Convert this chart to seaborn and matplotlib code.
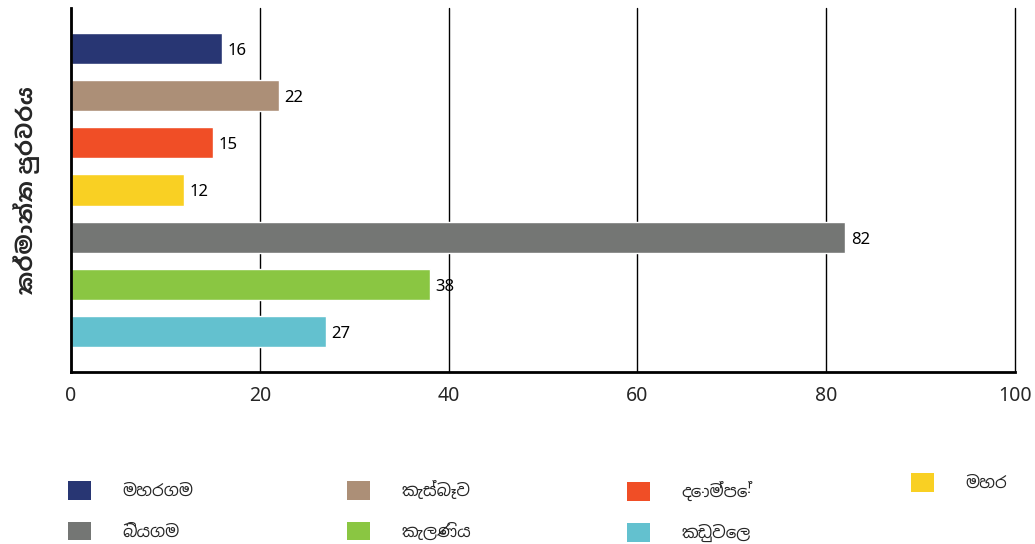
import matplotlib
matplotlib.use("Agg")
import os
import matplotlib.pyplot as plt
from matplotlib import font_manager
import seaborn as sns
import pandas as pd
from matplotlib.patches import Patch

categories = ["මහරගම", "කැස්බෑව", "දොම්පේ", "මහර", "බියගම", "කැලණිය", "කඩුවෙල"]
values = [16, 22, 15, 12, 82, 38, 27]
colors = ["#283673", "#AC8F77", "#F04E26", "#F9D023", "#747674", "#8AC642", "#63C1CF"]
x_ticks = [0, 20, 40, 60, 80, 100]
y_label = "කර්මාන්ත පුරවරය"

for p in ["/usr/share/fonts/truetype/google-fonts/NotoSansSinhala[wdth,wght].ttf",
          "/usr/share/fonts/truetype/google-fonts/HindColombo-Regular.ttf",
          "/usr/share/fonts/truetype/google-fonts/HindColombo-Bold.ttf"]:
    if os.path.exists(p):
        try:
            font_manager.fontManager.addfont(p)
        except Exception:
            pass

sns.set_theme(style="white")
plt.rcParams["font.family"] = ["Noto Sans", "Noto Sans Sinhala", "Hind Colombo", "DejaVu Sans"]

df = pd.DataFrame({"cat": categories, "val": values})

fig = plt.figure(figsize=(10.35, 5.44), dpi=100)
W, H = 1035, 544
ax = fig.add_axes([71 / W, 1 - 372 / H, (1015 - 71) / W, (372 - 8) / H])

sns.barplot(data=df, y="cat", x="val", hue="cat", palette=colors, order=categories,
            hue_order=categories, dodge=False, width=0.66, legend=False, ax=ax,
            saturation=1)

ax.set_xlim(0, 100)
ax.set_ylim(6.85, -0.85)
ax.set_xticks(x_ticks)
ax.set_xticklabels([str(t) for t in x_ticks], fontsize=14, fontweight="semibold")
ax.set_yticks([])
ax.set_xlabel("")
ax.set_ylabel(y_label, fontsize=16, fontweight="bold", labelpad=22,
              family=["Noto Sans", "Hind Colombo", "Noto Sans Sinhala", "DejaVu Sans"])
ax.tick_params(axis="x", length=0, pad=10)
ax.xaxis.grid(True, color="black", linewidth=1.0)
for gl in ax.get_xgridlines():
    gl.set_clip_on(False)
ax.set_axisbelow(True)
for s in ["top", "right"]:
    ax.spines[s].set_visible(False)
for s in ["left", "bottom"]:
    ax.spines[s].set_color("black")
    ax.spines[s].set_linewidth(2.0)

for i, v in enumerate(values):
    ax.text(v + 0.6, i + 0.05, str(v), va="center", ha="left", fontsize=12, color="black")

handles = [Patch(facecolor=c, edgecolor="none", label=l) for c, l in zip(colors, categories)]
columns = [([0, 4], 68, 481), ([1, 5], 347, 481), ([2, 6], 627, 481), ([3], 911, 473)]
for idx, xpix, ypix in columns:
    fig.legend(handles=[handles[i] for i in idx], loc="upper left",
               bbox_to_anchor=(xpix / W, 1 - ypix / H), frameon=False,
               fontsize=12, handlelength=1.35, handleheight=1.35,
               handletextpad=1.9, labelspacing=1.3, borderpad=0, borderaxespad=0)

fig.savefig("out.png", dpi=100)
